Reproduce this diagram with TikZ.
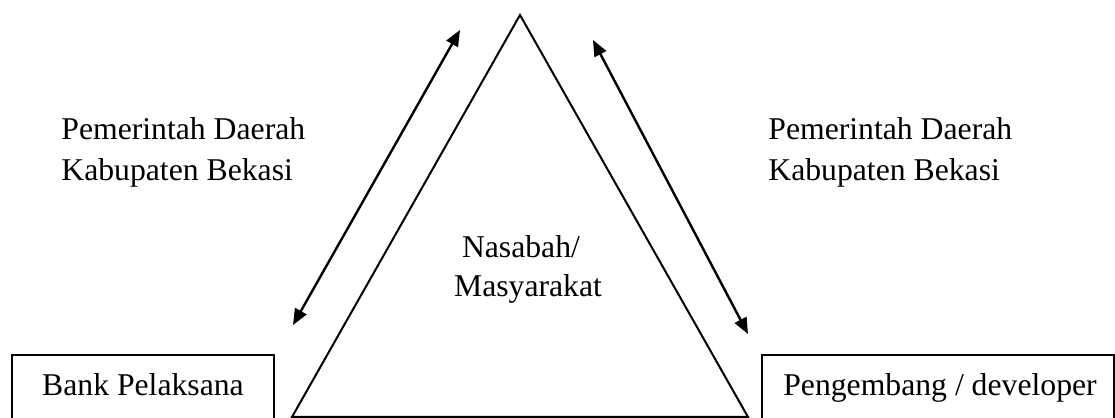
\documentclass[tikz,border=0pt]{standalone}
\usepackage{fontspec}
\setmainfont{Liberation Serif}
\usetikzlibrary{arrows.meta}
\tikzset{
  lbl/.style={inner sep=0pt, font=\fontsize{15.85}{20.5}\selectfont},
  boxnode/.style={draw, line width=0.9pt, inner sep=0pt, font=\fontsize{15.85}{20.5}\selectfont},
  tri/.style={line width=1pt, line join=miter},
  biarrow/.style={line width=1.2pt, {Triangle[length=8pt,width=6.5pt]}-{Triangle[length=8pt,width=6.5pt]}}
}
\begin{document}
\begin{tikzpicture}[x=0.5pt,y=0.5pt]
\useasboundingbox (0,0) rectangle (1115,418);
% triangle
\coordinate (apex) at (520,403);
\coordinate (bl) at (292,1);
\coordinate (br) at (748,1);
\draw[tri] (bl) -- (apex) -- (br) -- cycle;
% boxes
\node[boxnode, minimum width=131pt, minimum height=32pt] (bank) at (143,31) {};
\node[lbl, anchor=base] (banktxt) at (143,22) {Bank Pelaksana};
\node[boxnode, minimum width=176pt, minimum height=32pt] (dev) at (938,31) {};
\node[lbl, anchor=base] (devtxt) at (940,22) {Pengembang / developer};
% labels
\node[lbl, anchor=base west] (l1) at (61,278) {Pemerintah Daerah};
\node[lbl, anchor=base west] (l2) at (61,237) {Kabupaten Bekasi};
\node[lbl, anchor=base west] (r1) at (768,278) {Pemerintah Daerah};
\node[lbl, anchor=base west] (r2) at (768,237) {Kabupaten Bekasi};
\node[lbl, anchor=base] (n1) at (521,160) {Nasabah/};
\node[lbl, anchor=base] (n2) at (528,121) {Masyarakat};
% arrows
\coordinate (la) at (293,93);
\coordinate (lb) at (460,388);
\coordinate (ra) at (593,378);
\coordinate (rb) at (748,84);
\draw[biarrow] (la) -- (lb);
\draw[biarrow] (ra) -- (rb);
\end{tikzpicture}
\end{document}
